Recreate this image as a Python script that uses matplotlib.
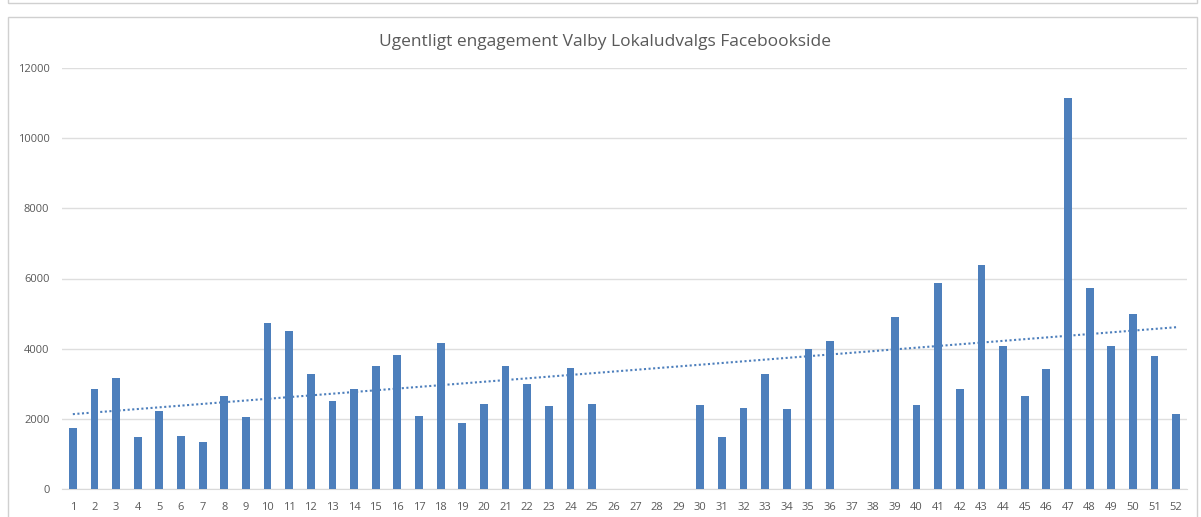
import matplotlib.pyplot as plt
import matplotlib.patches as mpatches
import numpy as np

# Ugentligt engagement (uge 1-52), tomme uger = NaN
weeks = list(range(1, 53))
engagement = [1750, 2850, 3150, 1480, 2220, 1510, 1340, 2650, 2050, 4730,
              4500, 3280, 2510, 2850, 3500, 3820, 2080, 4160, 1880, 2420,
              3500, 3000, 2370, 3450, 2420, np.nan, np.nan, np.nan, np.nan, 2400,
              1480, 2310, 3280, 2280, 3990, 4230, np.nan, np.nan, 4890, 2400,
              5870, 2850, 6380, 4080, 2650, 3420, 11140, 5740, 4080, 4990,
              3800, 2140]
yticks = [0, 2000, 4000, 6000, 8000, 10000, 12000]
title = 'Ugentligt engagement Valby Lokaludvalgs Facebookside'

blue = '#4d7fbc'
grey_txt = '#595959'
plt.rcParams['font.family'] = ['Open Sans', 'DejaVu Sans']

fig = plt.figure(figsize=(12.01, 5.17), dpi=100)
ax = fig.add_axes([62 / 1201, 1 - 489 / 517, (1187 - 62) / 1201, (489 - 68) / 517])

x = np.array(weeks)
y = np.array(engagement, dtype=float)
ax.bar(x, np.nan_to_num(y), width=0.36, color=blue, zorder=3)

# lineær trendlinje (tomme uger udeladt)
mask = ~np.isnan(y)
k, m = np.polyfit(x[mask], y[mask], 1)
ax.plot([1, 52], [k * 1 + m, k * 52 + m], linestyle=(0, (1, 1.2)), color=blue,
        linewidth=1.5, zorder=4)

ax.set_xlim(0.5, 52.5)
ax.set_ylim(0, 12000)
ax.set_yticks(yticks)
ax.set_yticklabels([str(t) for t in yticks])
ax.set_xticks(weeks)
ax.set_xticklabels([str(w) for w in weeks])
ax.tick_params(axis='y', length=0, labelsize=8, labelcolor=grey_txt, pad=9)
ax.tick_params(axis='x', length=0, labelsize=8, labelcolor=grey_txt, pad=9)
ax.grid(axis='y', color='#dedede', linewidth=1, zorder=0)
for s in ['top', 'right', 'left']:
    ax.spines[s].set_visible(False)
ax.spines['bottom'].set_color('#d9d9d9')

fig.text(605 / 1201, 1 - 42 / 517, title, ha='center', va='center',
         fontsize=12.5, color=grey_txt)

# rammer som i Excel-skærmbilledet
fig.add_artist(mpatches.Rectangle((8 / 1201, -0.1), 1189 / 1201, 1 - 17 / 517 + 0.1,
               transform=fig.transFigure, fill=False, edgecolor='#d0d0d0', lw=1))
fig.add_artist(mpatches.Rectangle((8 / 1201, 1 - 3 / 517), 1189 / 1201, 0.1,
               transform=fig.transFigure, fill=False, edgecolor='#d0d0d0', lw=1))

fig.savefig('out.png', dpi=100)
